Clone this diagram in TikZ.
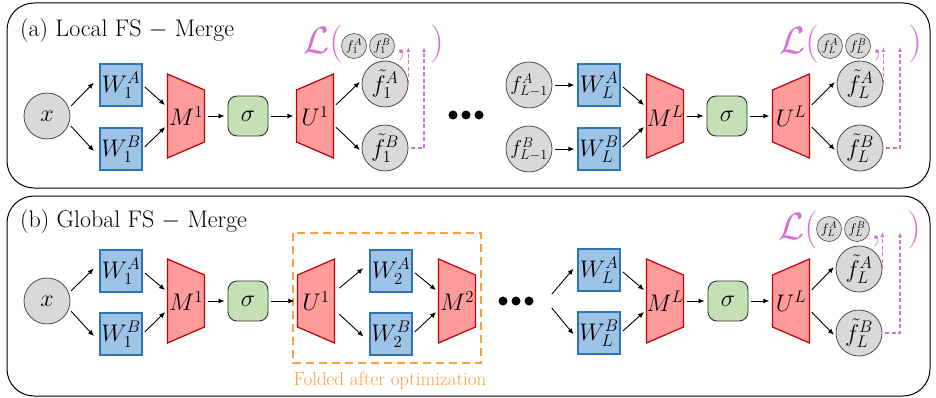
\RequirePackage{fix-cm}
\documentclass[tikz,border=0pt]{standalone}
\usetikzlibrary{arrows.meta,calc}

\definecolor{wfill}{HTML}{9DC3E6}
\definecolor{wline}{HTML}{2E75B6}
\definecolor{mfill}{HTML}{FF9B9B}
\definecolor{mline}{HTML}{C00000}
\definecolor{sfill}{HTML}{C5E0B4}
\definecolor{ffill}{HTML}{D9D9D9}
\definecolor{lossc}{HTML}{D670D6}
\definecolor{foldc}{HTML}{FF9F40}

\begin{document}
\begin{tikzpicture}[x=1pt, y=-1pt,
    big/.style={font=\fontsize{24}{26}\selectfont},
    wbox/.style={big, draw=wline, fill=wfill, line width=1.2pt, minimum size=42pt, inner sep=0pt},
    mnode/.style={big, minimum width=37pt, minimum height=84pt, inner sep=0pt},
    trapline/.style={draw=mline, fill=mfill, line width=1.2pt},
    act/.style={big, draw=black!80, fill=sfill, line width=0.9pt, rounded corners=9pt, minimum size=40pt, inner sep=0pt},
    feat/.style={big, circle, draw=black!70, fill=ffill, line width=0.8pt, minimum size=46pt, inner sep=0pt},
    prevfeat/.style={feat, font=\fontsize{20}{22}\selectfont},
    tinyfeat/.style={circle, draw=black!70, fill=ffill, line width=0.6pt, minimum size=25pt, inner sep=0pt, font=\fontsize{14}{15}\selectfont},
    losstxt/.style={text=lossc, font=\fontsize{38}{38}\selectfont, inner sep=0pt},
    dot/.style={circle, fill=black, minimum size=9pt, inner sep=0pt},
    arr/.style={-{Latex[length=6pt,width=5pt]}, line width=0.9pt, shorten <=3pt, shorten >=3pt},
    lossarr/.style={draw=lossc, -{Latex[length=5pt,width=4pt]}, line width=1.1pt, dash pattern=on 4pt off 2.5pt},
    panel/.style={draw, line width=1pt, rounded corners=27pt},
    mtrap/.pic={\path[trapline] (-18.5,-42) -- (18.5,-26) -- (18.5,26) -- (-18.5,42) -- cycle;}]
\useasboundingbox (0,0) rectangle (936,398);

\draw[panel] (7,3) rectangle (930,188);
\draw[panel] (7,196) rectangle (930,396);
\node[big, inner sep=0pt, anchor=base west] (titleA) at (20,37) {(a) Local FS $-$ Merge};
\node[big, inner sep=0pt, anchor=base west] (titleB) at (20,227) {(b) Global FS $-$ Merge};

% (a) first layer
\node[feat] (ax) at (47,116) {$x$};
\node[wbox] (aw1A) at (121,85) {$W_1^A$};
\node[wbox] (aw1B) at (121,149) {$W_1^B$};
\pic at (186,116) {mtrap};
\node[mnode] (am1) at (186,116) {$M^1$};
\node[act] (as1) at (248,116) {$\sigma$};
\pic[xscale=-1] at (315,116) {mtrap};
\node[mnode] (au1) at (315,116) {$U^1$};
\node[feat] (af1A) at (385,84) {$\tilde f_1^A$};
\node[feat] (af1B) at (385,148) {$\tilde f_1^B$};

\node[losstxt, anchor=base east] (alossL) at (343,54) {$\mathcal{L}($};
\node[tinyfeat] (al1A) at (354,46) {$f_1^A$};
\node[tinyfeat] (al1B) at (382,46) {$f_1^B$};
\node[losstxt, anchor=base] (alossC) at (401,54) {$,$};
\node[losstxt, anchor=base] (alossR) at (437,54) {$)$};
\coordinate (at1) at (424,47);

\foreach \i/\px in {1/453,2/466,3/479}
  \node[dot] (adot\i) at (\px,115) {};

% (a) last layer
\node[prevfeat] (afpA) at (529,85) {$f_{L-1}^A$};
\node[prevfeat] (afpB) at (529,149) {$f_{L-1}^B$};
\node[wbox] (awLA) at (599,85) {$W_L^A$};
\node[wbox] (awLB) at (599,149) {$W_L^B$};
\pic at (665,116) {mtrap};
\node[mnode] (amL) at (665,116) {$M^L$};
\node[act] (asL) at (727,116) {$\sigma$};
\pic[xscale=-1] at (791,116) {mtrap};
\node[mnode] (auL) at (791,116) {$U^L$};
\node[feat] (afLA) at (860,84) {$\tilde f_L^A$};
\node[feat] (afLB) at (860,148) {$\tilde f_L^B$};

\node[losstxt, anchor=base east] (alossL2) at (819,54) {$\mathcal{L}($};
\node[tinyfeat] (alLA) at (830,46) {$f_L^A$};
\node[tinyfeat] (alLB) at (858,46) {$f_L^B$};
\node[losstxt, anchor=base] (alossC2) at (877,54) {$,$};
\node[losstxt, anchor=base] (alossR2) at (915,54) {$)$};
\coordinate (at2) at (900,47);

\draw[arr, shorten >=8pt] (ax.20) -- ($(aw1A.west)+(0,-8)$);
\draw[arr, shorten >=8pt] (ax.-20) -- ($(aw1B.west)+(0,8)$);
\draw[arr] (aw1A.east) -- ($(am1.west)+(0,-9)$);
\draw[arr] (aw1B.east) -- ($(am1.west)+(0,9)$);
\draw[arr] (am1.east) -- (as1.west);
\draw[arr] (as1.east) -- (au1.west);
\draw[arr] ($(au1.east)+(0,-9)$) -- (af1A.170);
\draw[arr] ($(au1.east)+(0,9)$) -- (af1B.190);
\draw[lossarr] (af1A.east) -- (af1A.east |- at1);
\draw[lossarr, shorten <=3pt] (af1B.east) -| (at1);

\draw[arr] (afpA) -- (awLA);
\draw[arr] (afpB) -- (awLB);
\draw[arr] (awLA.east) -- ($(amL.west)+(0,-9)$);
\draw[arr] (awLB.east) -- ($(amL.west)+(0,9)$);
\draw[arr] (amL.east) -- (asL.west);
\draw[arr] (asL.east) -- (auL.west);
\draw[arr] ($(auL.east)+(0,-9)$) -- (afLA.170);
\draw[arr] ($(auL.east)+(0,9)$) -- (afLB.190);
\draw[lossarr] (afLA.east) -- (afLA.east |- at2);
\draw[lossarr, shorten <=3pt] (afLB.east) -| (at2);

% (b) first layer
\node[feat] (bx) at (47,301) {$x$};
\node[wbox] (bw1A) at (121,271) {$W_1^A$};
\node[wbox] (bw1B) at (121,334) {$W_1^B$};
\pic at (186,301) {mtrap};
\node[mnode] (bm1) at (186,301) {$M^1$};
\node[act] (bs1) at (248,301) {$\sigma$};

% folded block
\draw[foldc, line width=1.3pt, dash pattern=on 8pt off 5pt] (293,233) rectangle (481,363);
\node[text=foldc, font=\fontsize{19}{20}\selectfont, anchor=base] (fold) at (390,385) {Folded after optimization};
\pic[xscale=-1] at (316,301) {mtrap};
\node[mnode] (bu1) at (316,301) {$U^1$};
\node[wbox] (bw2A) at (391,271) {$W_2^A$};
\node[wbox] (bw2B) at (391,334) {$W_2^B$};
\pic at (457,301) {mtrap};
\node[mnode] (bm2) at (457,301) {$M^2$};

\foreach \i/\px in {1/503,2/516,3/529}
  \node[dot] (bdot\i) at (\px,301) {};
\coordinate (bfan) at (546,301);

% (b) last layer
\node[wbox] (bwLA) at (599,270) {$W_L^A$};
\node[wbox] (bwLB) at (599,333) {$W_L^B$};
\pic at (665,301) {mtrap};
\node[mnode] (bmL) at (665,301) {$M^L$};
\node[act] (bsL) at (728,301) {$\sigma$};
\pic[xscale=-1] at (791,301) {mtrap};
\node[mnode] (buL) at (791,301) {$U^L$};
\node[feat] (bfLA) at (859,269) {$\tilde f_L^A$};
\node[feat] (bfLB) at (859,333) {$\tilde f_L^B$};

\node[losstxt, anchor=base east] (blossL) at (818,239) {$\mathcal{L}($};
\node[tinyfeat] (blLA) at (829,229) {$f_L^A$};
\node[tinyfeat] (blLB) at (857,229) {$f_L^B$};
\node[losstxt, anchor=base] (blossC) at (876,239) {$,$};
\node[losstxt, anchor=base] (blossR) at (914,239) {$)$};
\coordinate (bt) at (900,232);

\draw[arr, shorten >=8pt] (bx.20) -- ($(bw1A.west)+(0,-8)$);
\draw[arr, shorten >=8pt] (bx.-20) -- ($(bw1B.west)+(0,8)$);
\draw[arr] (bw1A.east) -- ($(bm1.west)+(0,-9)$);
\draw[arr] (bw1B.east) -- ($(bm1.west)+(0,9)$);
\draw[arr] (bm1.east) -- (bs1.west);
\draw[arr] (bs1.east) -- (bu1.west);
\draw[arr, shorten <=6pt, shorten >=8pt] ($(bu1.east)+(0,-9)$) -- ($(bw2A.west)+(0,-8)$);
\draw[arr, shorten <=6pt, shorten >=8pt] ($(bu1.east)+(0,9)$) -- ($(bw2B.west)+(0,8)$);
\draw[arr] (bw2A.east) -- ($(bm2.west)+(0,-9)$);
\draw[arr] (bw2B.east) -- ($(bm2.west)+(0,9)$);
\draw[arr, shorten <=9pt, shorten >=6pt] (bfan) -- ($(bwLA.west)+(0,-6)$);
\draw[arr, shorten <=9pt, shorten >=6pt] (bfan) -- ($(bwLB.west)+(0,6)$);
\draw[arr] (bwLA.east) -- ($(bmL.west)+(0,-9)$);
\draw[arr] (bwLB.east) -- ($(bmL.west)+(0,9)$);
\draw[arr] (bmL.east) -- (bsL.west);
\draw[arr] (bsL.east) -- (buL.west);
\draw[arr] ($(buL.east)+(0,-9)$) -- (bfLA.170);
\draw[arr] ($(buL.east)+(0,9)$) -- (bfLB.190);
\draw[lossarr] (bfLA.east) -- (bfLA.east |- bt);
\draw[lossarr, shorten <=3pt] (bfLB.east) -| (bt);
\end{tikzpicture}
\end{document}
